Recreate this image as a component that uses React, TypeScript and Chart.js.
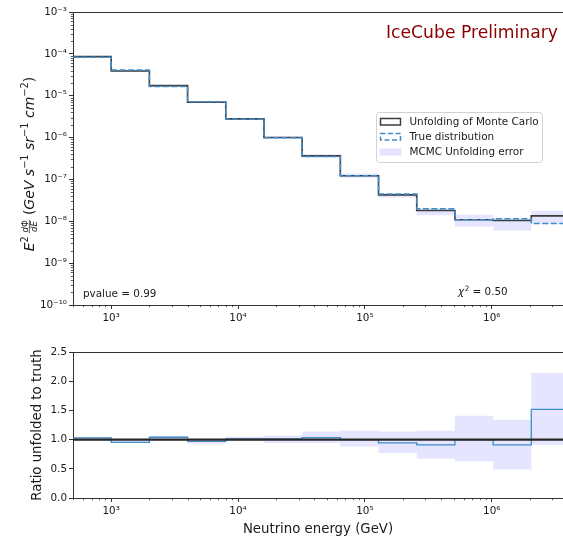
import React, { useEffect, useRef } from "react";
import { Chart, registerables } from "chart.js";
Chart.register(...registerables);

// ---------------- data ----------------
const binEdges = [500, 1000, 2000, 4000, 8000, 16000, 32000, 64000, 128000, 256000, 512000, 1024000, 2048000, 4096000];
const unfolded = [8.6e-5, 3.91e-5, 1.74e-5, 7.0e-6, 2.79e-6, 1.0e-6, 3.66e-7, 1.22e-7, 4.28e-8, 1.81e-8, 1.09e-8, 1.045e-8, 1.35e-8];
const truth = [8.35e-5, 4.1e-5, 1.67e-5, 7.2e-6, 2.76e-6, 9.9e-7, 3.54e-7, 1.22e-7, 4.5e-8, 1.99e-8, 1.09e-8, 1.15e-8, 8.9e-9];
const errLow = [8.2e-5, 3.8e-5, 1.65e-5, 6.7e-6, 2.7e-6, 9.4e-7, 3.35e-7, 1.1e-7, 3.7e-8, 1.39e-8, 7.5e-9, 6.0e-9, 8.9e-9];
const errHigh = [8.8e-5, 4.1e-5, 1.78e-5, 7.3e-6, 2.9e-6, 1.06e-6, 4.0e-7, 1.38e-7, 4.6e-8, 2.03e-8, 1.43e-8, 1.17e-8, 1.79e-8];
const ratio = [1.03, 0.954, 1.04, 0.97, 1.01, 1.01, 1.034, 1.0, 0.944, 0.91, 1.0, 0.91, 1.516];
const ratioLow = [0.98, 0.94, 0.98, 0.93, 0.97, 0.94, 0.94, 0.88, 0.77, 0.67, 0.63, 0.49, 0.91];
const ratioHigh = [1.05, 1.0, 1.06, 1.0, 1.05, 1.07, 1.14, 1.15, 1.14, 1.15, 1.41, 1.34, 2.14];

const energyTicks = [1e3, 1e4, 1e5, 1e6];
const energyTickLabels = ["10³", "10⁴", "10⁵", "10⁶"];
const fluxTicks = [1e-10, 1e-9, 1e-8, 1e-7, 1e-6, 1e-5, 1e-4, 1e-3];
const fluxTickLabels = ["10⁻¹⁰", "10⁻⁹", "10⁻⁸", "10⁻⁷", "10⁻⁶", "10⁻⁵", "10⁻⁴", "10⁻³"];
const ratioTicks = [0, 0.5, 1, 1.5, 2, 2.5];
const ratioTickLabels = ["0.0", "0.5", "1.0", "1.5", "2.0", "2.5"];
const legendLabels = ["Unfolding of Monte Carlo", "True distribution", "MCMC Unfolding error"];
const pvalueText = "pvalue = 0.99";
const chi2Value = "0.50";
const watermark = "IceCube Preliminary";

const X_MIN = 500;
const X_MAX = 3.64e6;

// ---------------- styles ----------------
const FONT = "'DejaVu Sans', sans-serif";
const TXT = "#1a1a1a";
const SPINE = "#333333";
const BLUE = "#3f8dcb";
const DARK = "#3c3c3c";
const BAND = "rgba(0,0,255,0.1)";
const SMALL = 10.4;

function stepPts(values: number[]) {
  const pts = values.map((v, i) => ({ x: binEdges[i], y: v }));
  pts.push({ x: binEdges[values.length], y: values[values.length - 1] });
  return pts;
}

function drawMinor(ctx: CanvasRenderingContext2D, scale: any, axis: "x" | "y", a: any, len: number) {
  const min = scale.min, max = scale.max;
  ctx.save();
  ctx.strokeStyle = SPINE;
  ctx.lineWidth = 0.8;
  ctx.beginPath();
  for (let e = Math.floor(Math.log10(min)) - 1; e <= Math.ceil(Math.log10(max)); e++) {
    for (let m = 2; m <= 9; m++) {
      const v = m * Math.pow(10, e);
      if (v < min || v > max) continue;
      const p = Math.round(scale.getPixelForValue(v)) + 0.5;
      if (axis === "x") {
        ctx.moveTo(p, a.bottom);
        ctx.lineTo(p, a.bottom + len);
      } else {
        ctx.moveTo(a.left - len, p);
        ctx.lineTo(a.left, p);
      }
    }
  }
  ctx.stroke();
  ctx.restore();
}

function topSpine(ctx: CanvasRenderingContext2D, a: any) {
  ctx.save();
  ctx.strokeStyle = SPINE;
  ctx.lineWidth = 1;
  ctx.beginPath();
  const y = Math.round(a.top) + 0.5;
  ctx.moveTo(a.left, y);
  ctx.lineTo(a.right + 2, y);
  ctx.stroke();
  ctx.restore();
}

function drawFluxTitle(ctx: CanvasRenderingContext2D, cx: number, cy: number) {
  const F = 14;
  const s = F * 0.7;
  const it = (z: number) => `italic ${z}px ${FONT}`;
  const rm = (z: number) => `${z}px ${FONT}`;
  type Run = { t: string; f: string; dy: number } | { gap: number } | { frac: true };
  const runs: Run[] = [
    { t: "E", f: it(F), dy: 0 },
    { t: "2", f: rm(s), dy: -0.42 * F },
    { gap: 0.18 * F },
    { frac: true },
    { gap: 0.3 * F },
    { t: "(", f: rm(F), dy: 0 },
    { t: "GeV s", f: it(F), dy: 0 },
    { t: "−1", f: rm(s), dy: -0.42 * F },
    { t: " sr", f: it(F), dy: 0 },
    { t: "−1", f: rm(s), dy: -0.42 * F },
    { t: " cm", f: it(F), dy: 0 },
    { t: "−2", f: rm(s), dy: -0.42 * F },
    { t: ")", f: rm(F), dy: 0 },
  ];
  const fs = F * 0.62;
  ctx.save();
  ctx.font = it(fs);
  const wd = ctx.measureText("d").width;
  ctx.font = rm(fs);
  const wPhi = ctx.measureText("Φ").width;
  ctx.font = it(fs);
  const wdE = ctx.measureText("dE").width;
  const fracW = Math.max(wd + wPhi, wdE) + 2;
  let total = 0;
  const widths: number[] = runs.map((r: any) => {
    if (r.gap !== undefined) return r.gap;
    if (r.frac) return fracW;
    ctx.font = r.f;
    return ctx.measureText(r.t).width;
  });
  total = widths.reduce((p, c) => p + c, 0);
  ctx.translate(cx, cy);
  ctx.rotate(-Math.PI / 2);
  ctx.fillStyle = TXT;
  ctx.textBaseline = "alphabetic";
  ctx.textAlign = "left";
  let x = -total / 2;
  runs.forEach((r: any, i) => {
    if (r.frac) {
      const bar = -0.33 * F;
      const nx = x + (fracW - (wd + wPhi)) / 2;
      ctx.font = it(fs);
      ctx.fillText("d", nx, bar - 0.12 * F);
      ctx.font = rm(fs);
      ctx.fillText("Φ", nx + wd, bar - 0.12 * F);
      ctx.font = it(fs);
      ctx.fillText("dE", x + (fracW - wdE) / 2, bar + 0.12 * F + fs * 0.73);
      ctx.strokeStyle = TXT;
      ctx.lineWidth = 0.7;
      ctx.beginPath();
      ctx.moveTo(x + 0.5, bar);
      ctx.lineTo(x + fracW - 0.5, bar);
      ctx.stroke();
    } else if (r.t !== undefined) {
      ctx.font = r.f;
      ctx.fillText(r.t, x, r.dy);
    }
    x += widths[i];
  });
  ctx.restore();
}

const topDecor = {
  id: "topDecor",
  afterDraw(chart: any) {
    const { ctx, chartArea: a, scales } = chart;
    topSpine(ctx, a);
    drawMinor(ctx, scales.x, "x", a, 2.2);
    drawMinor(ctx, scales.y, "y", a, 2.2);
    ctx.save();
    // watermark
    ctx.fillStyle = "#8b0000";
    ctx.font = `17.2px ${FONT}`;
    ctx.textAlign = "right";
    ctx.textBaseline = "alphabetic";
    ctx.fillText(watermark, 558, 37.5);
    // pvalue
    ctx.fillStyle = TXT;
    ctx.font = `${SMALL}px ${FONT}`;
    ctx.textAlign = "left";
    ctx.fillText(pvalueText, 83, 297);
    // chi2
    let cx = 458;
    ctx.font = `italic ${SMALL}px ${FONT}`;
    ctx.fillText("χ", cx, 295);
    cx += ctx.measureText("χ").width + 0.5;
    ctx.font = `${SMALL * 0.7}px ${FONT}`;
    ctx.fillText("2", cx, 290.5);
    cx += ctx.measureText("2").width;
    ctx.font = `${SMALL}px ${FONT}`;
    ctx.fillText(" = " + chi2Value, cx, 295);
    // legend
    const lx = 376.5, ly = 112.5, lw = 166, lh = 50;
    ctx.beginPath();
    if ((ctx as any).roundRect) (ctx as any).roundRect(lx, ly, lw, lh, 3);
    else ctx.rect(lx, ly, lw, lh);
    ctx.fillStyle = "rgba(255,255,255,0.8)";
    ctx.fill();
    ctx.strokeStyle = "#d2d2d2";
    ctx.lineWidth = 1;
    ctx.stroke();
    const rows = [121.5, 136.5, 152];
    ctx.strokeStyle = DARK;
    ctx.lineWidth = 1.5;
    ctx.strokeRect(380.5, rows[0] - 3, 20, 6.5);
    ctx.setLineDash([5, 2.5]);
    ctx.strokeStyle = BLUE;
    ctx.strokeRect(380.5, rows[1] - 3, 20, 6.5);
    ctx.setLineDash([]);
    ctx.fillStyle = BAND;
    ctx.fillRect(379.5, rows[2] - 3.5, 22, 7);
    ctx.fillStyle = TXT;
    ctx.font = `${SMALL}px ${FONT}`;
    ctx.textBaseline = "middle";
    legendLabels.forEach((t, i) => ctx.fillText(t, 409.5, rows[i] + 0.5));
    ctx.restore();
    drawFluxTitle(ctx, 34, 164);
  },
};

const bottomDecor = {
  id: "bottomDecor",
  afterDraw(chart: any) {
    const { ctx, chartArea: a, scales } = chart;
    topSpine(ctx, a);
    drawMinor(ctx, scales.x, "x", a, 2.2);
  },
};

function xScale(height: number, withTitle: boolean) {
  return {
    type: "logarithmic",
    min: X_MIN,
    max: X_MAX,
    afterBuildTicks: (s: any) => {
      s.ticks = energyTicks.map((v) => ({ value: v }));
    },
    afterFit: (s: any) => {
      s.height = height;
    },
    ticks: {
      callback: (_v: any, i: number) => energyTickLabels[i],
      font: { family: FONT, size: SMALL },
      color: TXT,
      padding: 3,
      maxRotation: 0,
      autoSkip: false,
    },
    grid: { display: true, drawOnChartArea: false, drawTicks: true, tickLength: 4, tickColor: SPINE, color: SPINE },
    border: { display: true, color: SPINE, width: 1 },
    title: withTitle
      ? { display: true, text: "Neutrino energy (GeV)", font: { family: FONT, size: 13.3 }, color: TXT, padding: { top: 0, bottom: 1 } }
      : { display: false },
  };
}

export default function App() {
  const topRef = useRef<HTMLCanvasElement>(null);
  const botRef = useRef<HTMLCanvasElement>(null);

  useEffect(() => {
    const top = new Chart(topRef.current as HTMLCanvasElement, {
      type: "line",
      data: {
        datasets: [
          { label: "True distribution", data: stepPts(truth), stepped: true, borderColor: BLUE, borderWidth: 1.5, borderDash: [6, 2.5], pointRadius: 0, fill: false, order: 0 },
          { label: "Unfolding of Monte Carlo", data: stepPts(unfolded), stepped: true, borderColor: DARK, borderWidth: 1.6, pointRadius: 0, fill: false, order: 1 },
          { label: "errHigh", data: stepPts(errHigh), stepped: true, borderColor: "rgba(0,0,0,0)", borderWidth: 0, pointRadius: 0, fill: "+1", backgroundColor: BAND, order: 2 },
          { label: "errLow", data: stepPts(errLow), stepped: true, borderColor: "rgba(0,0,0,0)", borderWidth: 0, pointRadius: 0, fill: false, order: 3 },
        ],
      } as any,
      options: {
        animation: false,
        responsive: false,
        maintainAspectRatio: false,
        layout: { padding: { top: 12, right: 0, left: 0, bottom: 0 } },
        plugins: { legend: { display: false }, tooltip: { enabled: false }, filler: { drawTime: "beforeDatasetsDraw" } } as any,
        scales: {
          x: xScale(25, false),
          y: {
            type: "logarithmic",
            min: 1e-10,
            max: 1e-3,
            afterBuildTicks: (s: any) => {
              s.ticks = fluxTicks.map((v) => ({ value: v }));
            },
            afterFit: (s: any) => {
              s.width = 73;
            },
            ticks: {
              callback: (_v: any, i: number) => fluxTickLabels[i],
              font: { family: FONT, size: SMALL },
              color: TXT,
              padding: 2,
              autoSkip: false,
            },
            grid: { display: true, drawOnChartArea: false, drawTicks: true, tickLength: 4, tickColor: SPINE, color: SPINE },
            border: { display: true, color: SPINE, width: 1 },
          },
        } as any,
      },
      plugins: [topDecor],
    });

    const bot = new Chart(botRef.current as HTMLCanvasElement, {
      type: "line",
      data: {
        datasets: [
          { label: "unity", data: [{ x: binEdges[0], y: 1 }, { x: binEdges[binEdges.length - 1], y: 1 }], borderColor: "#262626", borderWidth: 2.2, pointRadius: 0, fill: false, order: 0 },
          { label: "ratio", data: stepPts(ratio), stepped: true, borderColor: BLUE, borderWidth: 1.3, pointRadius: 0, fill: false, order: 1 },
          { label: "ratioHigh", data: stepPts(ratioHigh), stepped: true, borderColor: "rgba(0,0,0,0)", borderWidth: 0, pointRadius: 0, fill: "+1", backgroundColor: BAND, order: 2 },
          { label: "ratioLow", data: stepPts(ratioLow), stepped: true, borderColor: "rgba(0,0,0,0)", borderWidth: 0, pointRadius: 0, fill: false, order: 3 },
        ],
      } as any,
      options: {
        animation: false,
        responsive: false,
        maintainAspectRatio: false,
        layout: { padding: { top: 22, right: 0, left: 0, bottom: 0 } },
        plugins: { legend: { display: false }, tooltip: { enabled: false }, filler: { drawTime: "beforeDatasetsDraw" } } as any,
        scales: {
          x: xScale(41, true),
          y: {
            type: "linear",
            min: 0,
            max: 2.5,
            afterBuildTicks: (s: any) => {
              s.ticks = ratioTicks.map((v) => ({ value: v }));
            },
            afterFit: (s: any) => {
              s.width = 73;
            },
            ticks: {
              callback: (_v: any, i: number) => ratioTickLabels[i],
              font: { family: FONT, size: SMALL },
              color: TXT,
              padding: 2,
              autoSkip: false,
            },
            grid: { display: true, drawOnChartArea: false, drawTicks: true, tickLength: 4, tickColor: SPINE, color: SPINE },
            border: { display: true, color: SPINE, width: 1 },
            title: { display: true, text: "Ratio unfolded to truth", font: { family: FONT, size: 13.3 }, color: TXT, padding: { top: 30, bottom: 0 } },
          },
        } as any,
      },
      plugins: [bottomDecor],
    });

    return () => {
      top.destroy();
      bot.destroy();
    };
  }, []);

  return (
    <div style={{ position: "fixed", left: 0, top: 0, width: 563, height: 539, overflow: "hidden", background: "#fff" }}>
      <canvas ref={topRef} width={563} height={330} style={{ position: "absolute", left: 0, top: 0, width: 563, height: 330 }} />
      <canvas ref={botRef} width={563} height={209} style={{ position: "absolute", left: 0, top: 330, width: 563, height: 209 }} />
    </div>
  );
}
